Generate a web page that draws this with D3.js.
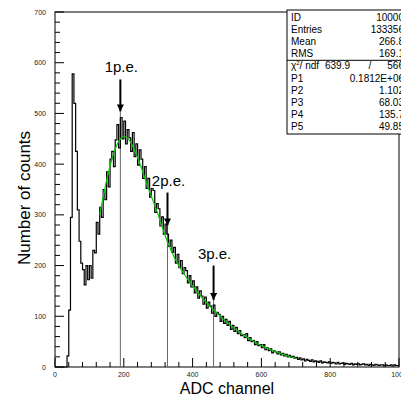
<!DOCTYPE html>
<html>
<head>
<meta charset="utf-8">
<script src="https://cdn.jsdelivr.net/npm/d3@7"></script>
<style>
  body { margin: 0; background: #fff; }
  text { font-family: "Liberation Sans", Arial, sans-serif; }
</style>
</head>
<body>
<div id="chart"></div>
<script>
width = 401
height = 398

// histogram, 5 ADC channels per entry, starting at 0
binWidth = 5
counts = [
  0,0,0,0,0,0,0,22,112,295,578,520,425,310,248,205,192,162,200,172,
  200,175,230,225,285,262,315,295,350,330,385,355,410,425,395,448,478,432,492,450,
  485,440,468,452,425,462,415,440,398,428,410,372,395,352,372,335,352,348,305,322,
  312,278,296,262,282,262,238,250,226,236,205,222,196,210,184,196,190,166,180,158,
  170,146,158,136,150,140,124,138,116,128,120,106,122,100,108,104,90,100,86,94,
  82,90,74,82,70,78,66,72,62,64,58,66,52,58,50,52,44,50,42,44,
  38,44,34,38,32,36,28,32,30,26,30,24,27,22,25,20,23,19,21,17,
  19,15,18,14,16,12,15,13,11,14,10,12,11,9,12,8,10,9,8,10,
  7,9,8,6,9,6,7,8,5,7,6,5,7,4,6,5,6,4,5,6,
  4,5,3,5,4,3,5,4,3,4,4,2,4,3,3,4,2,4,3,3
]

// fit curve
fitX = [130,150,170,190,200,210,230,250,270,300,325,350,400,460,500,550,600,650,700]
fitY = [300,368,420,450,455,452,430,395,355,300,250,212,160,113,88,62,42,28,17]

// photo-electron peak markers
peLabels = ["1p.e.", "2p.e.", "3p.e."]
peX = [190, 327, 461]
peTip = [504, 279, 132]
peTail = [567, 344, 200]

statNames = ["ID", "Entries", "Mean", "RMS"]
statValues = ["10000", "133356", "266.8", "169.1"]
parNames = ["P1", "P2", "P3", "P4", "P5"]
parValues = ["0.1812E+06", "1.102", "68.03", "135.7", "49.85"]
chi2 = "639.9"
ndf = "566"

xTicks = [0, 200, 400, 600, 800, 1000]
yTicks = [0, 100, 200, 300, 400, 500, 600, 700]

let svg = d3.select("#chart")
  .append("svg")
  .attr("width", width)
  .attr("height", height)

var x = d3.scaleLinear().domain([0, 1000]).range([55, 399])
var y = d3.scaleLinear().domain([0, 700]).range([367, 12])

// frame
svg.append("rect")
  .attr("x", x(0)).attr("y", y(700))
  .attr("width", x(1000) - x(0)).attr("height", y(0) - y(700))
  .attr("fill", "none").attr("stroke", "#000").attr("stroke-width", 1)

// minor + major ticks, pointing inward
var xMinor = d3.range(0, 1001, 40)
svg.append("g").selectAll("line")
  .data(xMinor)
  .enter().append("line")
  .attr("x1", d => x(d)).attr("x2", d => x(d))
  .attr("y1", y(0)).attr("y2", d => y(0) - (d % 200 == 0 ? 9 : 5))
  .attr("stroke", "#000")

var yMinor = d3.range(0, 701, 20)
svg.append("g").selectAll("line")
  .data(yMinor)
  .enter().append("line")
  .attr("x1", x(0)).attr("x2", d => x(0) + (d % 100 == 0 ? 9 : 5))
  .attr("y1", d => y(d)).attr("y2", d => y(d))
  .attr("stroke", "#000")

svg.append("g").selectAll("text")
  .data(xTicks)
  .enter().append("text")
  .attr("x", d => x(d)).attr("y", y(0) + 9.5)
  .attr("text-anchor", "middle")
  .style("font-size", "7px").attr("fill", "#222")
  .text(d => d)

svg.append("g").selectAll("text")
  .data(yTicks)
  .enter().append("text")
  .attr("x", x(0) - 9).attr("y", d => y(d) + 2.5)
  .attr("text-anchor", "end")
  .style("font-size", "7px").attr("fill", "#222")
  .text(d => d)

// axis titles
svg.append("text")
  .attr("x", (x(0) + x(1000)) / 2).attr("y", 394)
  .attr("text-anchor", "middle")
  .style("font-size", "16px")
  .text("ADC channel")

svg.append("text")
  .attr("transform", "translate(30, 198) rotate(-90)")
  .attr("text-anchor", "middle")
  .style("font-size", "17px")
  .text("Number of counts")

// marker vertical lines
svg.append("g").selectAll("line")
  .data(peX)
  .enter().append("line")
  .attr("x1", d => x(d)).attr("x2", d => x(d))
  .attr("y1", y(0)).attr("y2", (d, i) => y(peTip[i]))
  .attr("stroke", "#666").attr("stroke-width", 1)

// histogram as steps
var pts = counts.map((c, i) => [i * binWidth, c])
pts.push([counts.length * binWidth, counts[counts.length - 1]])
var step = d3.line()
  .x(d => x(d[0])).y(d => y(d[1]))
  .curve(d3.curveStepAfter)
svg.append("path")
  .attr("d", step(pts))
  .attr("fill", "none").attr("stroke", "#000").attr("stroke-width", 1.2)

// fit
var fit = d3.line()
  .x((d, i) => x(fitX[i])).y(d => y(d))
  .curve(d3.curveMonotoneX)
svg.append("path")
  .attr("d", fit(fitY))
  .attr("fill", "none").attr("stroke", "#00cc00").attr("stroke-width", 1.2)

// arrows + labels
var defs = svg.append("defs")
defs.append("marker")
  .attr("id", "head")
  .attr("viewBox", "0 0 10 10")
  .attr("refX", 10).attr("refY", 5)
  .attr("markerWidth", 5).attr("markerHeight", 3.5)
  .attr("markerUnits", "strokeWidth")
  .attr("orient", "auto")
  .append("path").attr("d", "M0,0 L10,5 L0,10 z").attr("fill", "#000")

peX.forEach(function(px, i) {
  svg.append("line")
    .attr("x1", x(px)).attr("x2", x(px))
    .attr("y1", y(peTail[i])).attr("y2", y(peTip[i]))
    .attr("stroke", "#000").attr("stroke-width", 2)
    .attr("marker-end", "url(#head)")
  svg.append("text")
    .attr("x", x(px) + 1).attr("y", y(peTail[i]) - 7)
    .attr("text-anchor", "middle")
    .style("font-size", "15px")
    .text(peLabels[i])
})

// stats box
var bx = 287, by = 10, rowH = 12.2
var box = svg.append("g")
box.append("rect")
  .attr("x", bx).attr("y", by).attr("width", 130).attr("height", 124)
  .attr("fill", "#fff").attr("stroke", "#000")
box.append("line")
  .attr("x1", bx).attr("x2", 401)
  .attr("y1", by + rowH * 4 + 1.5).attr("y2", by + rowH * 4 + 1.5)
  .attr("stroke", "#000")

var rows = statNames.map((n, i) => [n, statValues[i]])
rows.push(["chi", ndf])
parNames.forEach((n, i) => rows.push([n, parValues[i]]))

rows.forEach(function(r, i) {
  var ty = by + 10.5 + i * rowH
  if (r[0] == "chi") {
    var t = box.append("text").attr("x", bx + 4).attr("y", ty).style("font-size", "10px")
    t.append("tspan").text("χ")
    t.append("tspan").attr("dy", -4).style("font-size", "6px").text("2")
    t.append("tspan").attr("dy", 4).text("/ ndf")
    box.append("text").attr("x", bx + 63).attr("y", ty)
      .attr("text-anchor", "end").style("font-size", "10px").text(chi2)
    box.append("text").attr("x", bx + 83).attr("y", ty)
      .attr("text-anchor", "middle").style("font-size", "10px").text("/")
  } else {
    box.append("text").attr("x", bx + 4).attr("y", ty).style("font-size", "10px").text(r[0])
  }
  box.append("text").attr("x", 404).attr("y", ty)
    .attr("text-anchor", "end").style("font-size", "10px").text(r[1])
})
</script>
</body>
</html>
